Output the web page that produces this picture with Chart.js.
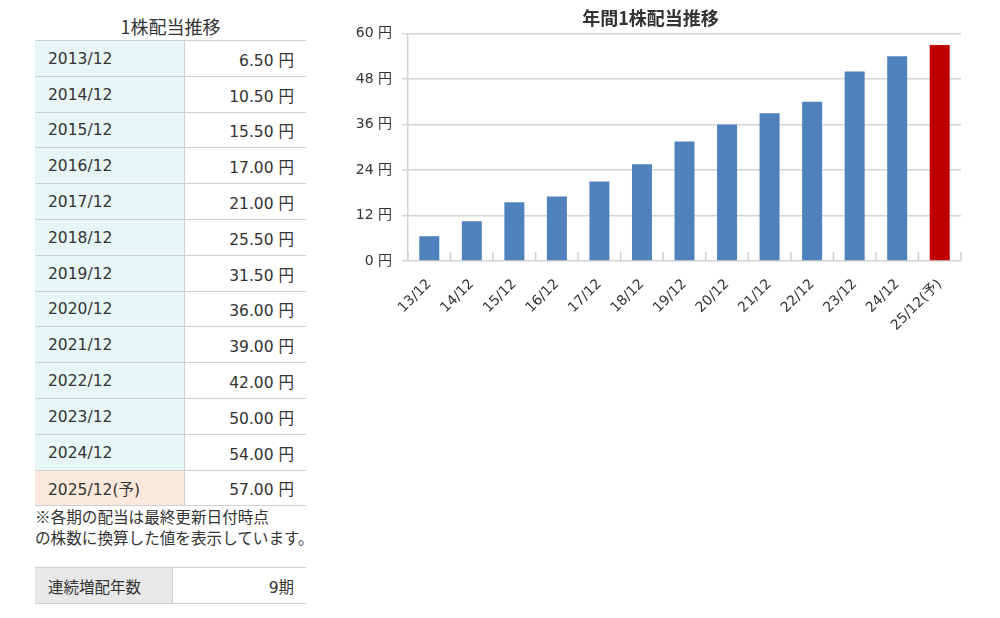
<!DOCTYPE html>
<html>
<head>
<meta charset="utf-8">
<script src="https://cdn.jsdelivr.net/npm/chart.js@4"></script>
<style>
  body { margin: 0; background: #fff; font-family: "DejaVu Sans", "Noto Sans CJK JP", sans-serif; color: #333; }
  #left { position: absolute; left: 35px; top: 12px; width: 271px; }
  #left h3 { margin: 0; height: 28px; font-size: 18px; font-weight: normal; text-align: center; line-height: 28px; font-family: "Noto Sans CJK JP", sans-serif; }
  table { border-collapse: collapse; width: 271px; font-size: 15.5px; }
  tr { height: 35.8px; }
  td { border-top: 1.5px solid #cfcfcf; border-bottom: 1.5px solid #cfcfcf; padding: 0; padding-top: 1px; }
  td.k { width: 149px; padding-left: 13px; box-sizing: border-box; background: #e8f5f7; border-right: 1.5px solid #cfcfcf; }
  td.k.yo { background: #fce8dc; }
  td.v { text-align: right; padding-right: 12px; }
  #note { font-size: 15.6px; line-height: 21px; margin-top: 0px; white-space: nowrap; font-family: "Noto Sans CJK JP", sans-serif; }
  #streak { margin-top: 19px; }
  #streak td.k { width: 137px; background: #e8e8e8; font-family: "Noto Sans CJK JP", sans-serif; }
  #chartBox { position: absolute; left: 340px; top: 0; width: 640px; height: 340px; }
</style>
</head>
<body>
<div id="left">
  <h3>1株配当推移</h3>
  <table id="divTable"></table>
  <div id="note">※各期の配当は最終更新日付時点<br>の株数に換算した値を表示しています。</div>
  <table id="streak"><tr><td class="k">連続増配年数</td><td class="v">9期</td></tr></table>
</div>
<div id="chartBox"><canvas id="myChart" width="640" height="340"></canvas></div>
<script>
// data
const periods = ["2013/12", "2014/12", "2015/12", "2016/12", "2017/12", "2018/12", "2019/12",
  "2020/12", "2021/12", "2022/12", "2023/12", "2024/12", "2025/12(予)"];
const labels = ["13/12", "14/12", "15/12", "16/12", "17/12", "18/12", "19/12",
  "20/12", "21/12", "22/12", "23/12", "24/12", "25/12(予)"];
const dividends = [6.5, 10.5, 15.5, 17, 21, 25.5, 31.5, 36, 39, 42, 50, 54, 57];
const yTicks = [0, 12, 24, 36, 48, 60];

// table
const table = document.getElementById("divTable");
for (let i = 0; i < periods.length; i++) {
  const tr = document.createElement("tr");
  const last = i == periods.length - 1;
  tr.innerHTML = '<td class="k' + (last ? ' yo' : '') + '">' + periods[i] + '</td>' +
    '<td class="v">' + dividends[i].toFixed(2) + ' 円</td>';
  table.appendChild(tr);
}

// chart
const barColors = dividends.map((v, i) => i == dividends.length - 1 ? "#c00000" : "#4f81bd");
const tickFont = "'DejaVu Sans', 'Noto Sans CJK JP', sans-serif";

// short marks between categories, pointing up from the axis
const innerTicks = {
  id: "innerTicks",
  afterDatasetsDraw(chart) {
    const area = chart.chartArea, c = chart.ctx;
    const n = labels.length;
    c.save();
    c.strokeStyle = "#cfcfcf";
    c.lineWidth = 1.5;
    for (let i = 0; i <= n; i++) {
      const px = area.left + (area.right - area.left) * i / n;
      c.beginPath();
      c.moveTo(px, area.bottom);
      c.lineTo(px, area.bottom - 9);
      c.stroke();
    }
    c.restore();
  }
};

new Chart(document.getElementById("myChart"), {
  type: "bar",
  data: {
    labels: labels,
    datasets: [{
      data: dividends,
      backgroundColor: barColors,
      borderWidth: 0,
      barPercentage: 0.47,
      categoryPercentage: 1
    }]
  },
  options: {
    responsive: false,
    animation: false,
    devicePixelRatio: 1,
    layout: { padding: { right: 19, left: 0 } },
    plugins: {
      legend: { display: false },
      tooltip: { enabled: false },
      title: {
        display: true,
        text: "年間1株配当推移",
        color: "#333",
        font: { family: "'Noto Sans CJK JP', sans-serif", size: 18, weight: "bold" },
        padding: { top: 7, bottom: 5 }
      }
    },
    scales: {
      x: {
        grid: { display: false, drawOnChartArea: false },
        border: { display: false },
        ticks: {
          color: "#333",
          font: { family: tickFont, size: 14 },
          minRotation: 45,
          maxRotation: 45,
          autoSkip: false,
          padding: 7
        },
        afterFit(scale) { scale.height = 79; }
      },
      y: {
        min: 0,
        max: 60,
        afterBuildTicks(scale) { scale.ticks = yTicks.map(v => ({ value: v })); },
        grid: { color: "#d4d4d4", lineWidth: 1.5, tickLength: 6 },
        border: { color: "#d4d4d4", width: 1.5 },
        ticks: {
          color: "#333",
          font: { family: tickFont, size: 14 },
          padding: 10,
          callback: v => v + " 円"
        },
        afterFit(scale) { scale.width = 68; }
      }
    }
  },
  plugins: [innerTicks]
});
</script>
</body>
</html>
